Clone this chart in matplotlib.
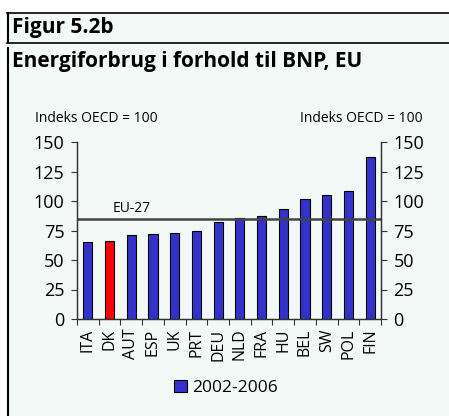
import matplotlib
matplotlib.use("Agg")
import matplotlib.pyplot as plt
from matplotlib.patches import Rectangle
from matplotlib.lines import Line2D

plt.rcParams['font.family'] = ['Open Sans', 'DejaVu Sans']

# data
countries = ["ITA", "DK", "AUT", "ESP", "UK", "PRT", "DEU", "NLD", "FRA", "HU", "BEL", "SW", "POL", "FIN"]
values = [65, 66, 71, 72, 73, 74.5, 82, 85.5, 87.5, 93.5, 101.5, 105.5, 108.5, 137.5]
eu27 = 85
yticks = [0, 25, 50, 75, 100, 125, 150]
series_name = "2002-2006"

bg = "#f2f9f7"
blue = "#3333cc"
red = "#ff0000"

fig = plt.figure(figsize=(4.49, 4.16), dpi=100)
fig.patch.set_facecolor("white")

# panel background and frame
fig.patches.append(Rectangle((7/449, 0), 1, 1 - 13/416, transform=fig.transFigure,
                             facecolor=bg, edgecolor="none", zorder=-5))
fig.add_artist(Line2D([7/449, 1], [1 - 13/416] * 2, color="black", lw=1.2))
fig.add_artist(Line2D([7/449, 1], [1 - 43/416] * 2, color="black", lw=1.2))
fig.add_artist(Line2D([7.5/449] * 2, [1 - 13/416, 1 - 42/416], color="black", lw=1.5))
fig.add_artist(Line2D([7.5/449] * 2, [0, 1 - 48/416], color="black", lw=1.5))

fig.text(12/449, 1 - 28/416, "Figur 5.2b", fontsize=15, fontweight="bold", va="center", ha="left")
fig.text(12/449, 1 - 62/416, "Energiforbrug i forhold til BNP, EU", fontsize=15,
         fontweight="bold", va="center", ha="left")

ax = fig.add_axes([77/449, 1 - 319/416, 304/449, 177/416])
ax.set_facecolor(bg)
x = list(range(len(countries)))
colors = [red if c == "DK" else blue for c in countries]
ax.bar(x, values, width=0.42, color=colors, edgecolor="black", linewidth=0.8, zorder=2)
ax.axhline(eu27, color="#444444", lw=1.8, zorder=3)
ax.text(2.0, eu27 + 2, "EU-27", fontsize=10, ha="center", va="bottom")

ax.set_xlim(-0.5, len(countries) - 0.5)
ax.set_ylim(0, 150)
ax.set_yticks(yticks)
ax.tick_params(axis="y", labelsize=13, length=4, width=0.8, color="#333333", pad=5)
ax.set_xticks([i - 0.5 for i in range(len(countries) + 1)])
ax.set_xticklabels([])
ax.set_xticks(x, minor=True)
ax.set_xticklabels(countries, minor=True, rotation=90, fontsize=11.5)
ax.tick_params(axis="x", which="major", length=4, width=0.8, color="#333333")
ax.tick_params(axis="x", which="minor", length=0, pad=7)

ax.spines["top"].set_visible(False)
for s in ["left", "right", "bottom"]:
    ax.spines[s].set_color("#333333")
    ax.spines[s].set_linewidth(0.9)

ax2 = ax.twinx()
ax2.set_ylim(0, 150)
ax2.set_yticks(yticks)
ax2.tick_params(axis="y", labelsize=13, length=4, width=0.8, color="#333333", pad=5)
ax2.spines["top"].set_visible(False)
for s in ["left", "right", "bottom"]:
    ax2.spines[s].set_color("#333333")
    ax2.spines[s].set_linewidth(0.9)

fig.text(35/449, 1 - 118/416, "Indeks OECD = 100", fontsize=10, ha="left", va="center")
fig.text(423/449, 1 - 118/416, "Indeks OECD = 100", fontsize=10, ha="right", va="center")

# legend
leg = ax.legend(handles=[Rectangle((0, 0), 1, 1, facecolor=blue, edgecolor="black", lw=0.8)],
                labels=[series_name], loc="center", bbox_to_anchor=(226/449, 1 - 388/416),
                bbox_transform=fig.transFigure, frameon=False, fontsize=12.5,
                handlelength=0.7, handleheight=0.7, handletextpad=0.3)

fig.savefig("out.png", dpi=100, facecolor=fig.get_facecolor())
